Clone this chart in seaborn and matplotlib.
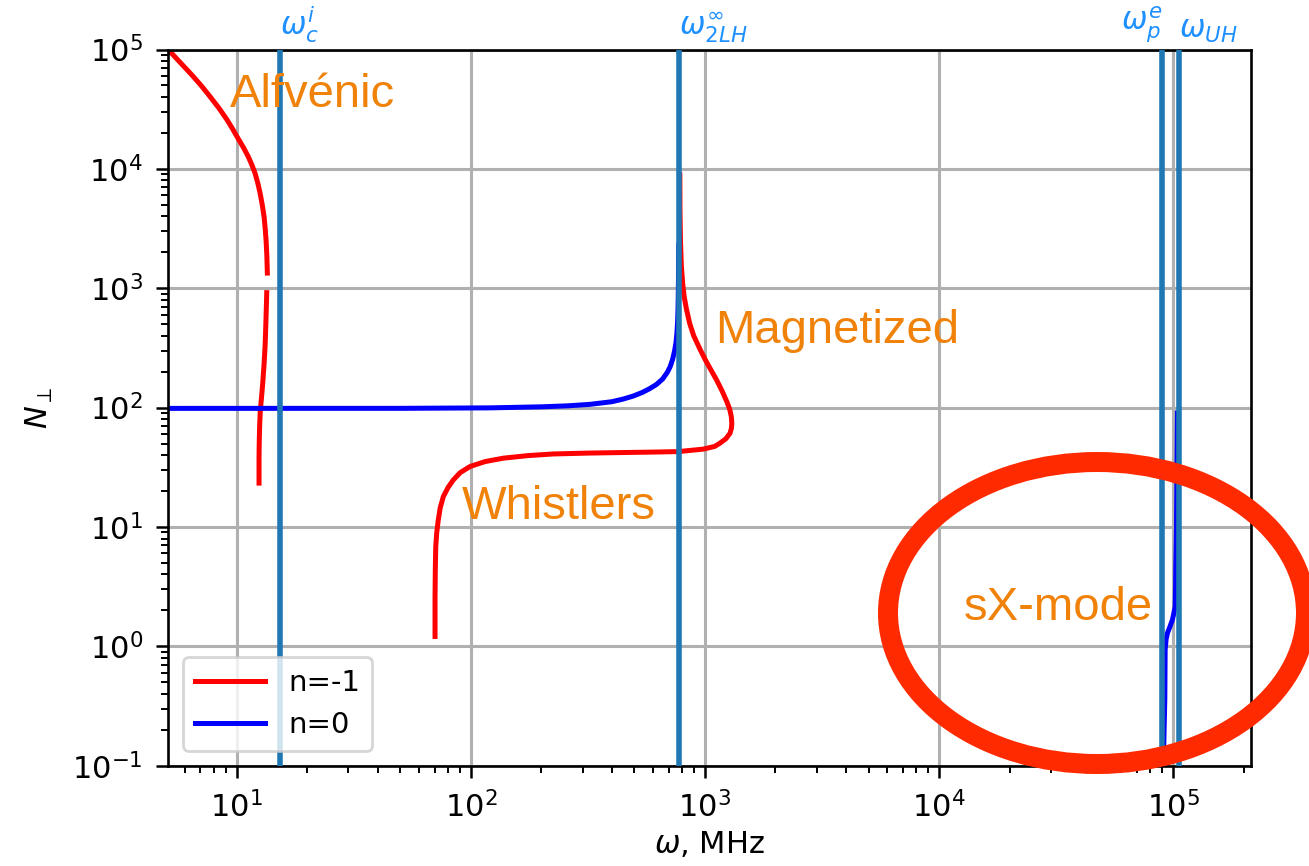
import matplotlib
matplotlib.use("Agg")
import matplotlib.pyplot as plt
from matplotlib.patches import Ellipse
from matplotlib.transforms import blended_transform_factory
import seaborn as sns

# ---- dispersion branches: omega [MHz] and N_perp ----
# n = -1, Alfvenic branch (two pieces, solver gap near N ~ 1e3)
alfven_hi_w = [5.1, 5.19, 5.8, 6.53, 7.1, 7.69, 8.4, 9.06, 9.6, 10.16, 10.7, 11.21, 11.6,
               11.97, 12.3, 12.58, 12.85, 13.08, 13.22, 13.34, 13.44, 13.51]
alfven_hi_N = [9.9e4, 9.6e4, 7.6e4, 5.92e4, 4.9e4, 4.03e4, 3.22e4, 2.6e4, 2.16e4, 1.78e4,
               1.5e4, 1.26e4, 1.08e4, 9.2e3, 7.6e3, 6.25e3, 5.0e3, 3.98e3, 3.2e3, 2.54e3,
               1.9e3, 1.34e3]
alfven_lo_w = [13.43, 13.39, 13.34, 13.28, 13.21, 13.08, 12.91, 12.75, 12.61, 12.53, 12.49,
               12.46, 12.45, 12.45]
alfven_lo_N = [918, 740, 578, 430, 324, 230, 160, 120, 95.7, 72, 57.1, 45, 36.5, 23.3]

# n = -1, whistler / magnetized branch (ordered along the curve)
whistler_w = [70.3, 70.3, 70.5, 70.8, 71.5, 72.6, 74.0, 76.3, 80.0, 84.2, 90.0, 99.2, 115,
              137.6, 175, 225, 320, 434, 600, 769, 984, 1100, 1160, 1230, 1280, 1297,
              1302, 1296, 1275, 1240, 1185, 1120, 1060, 1005, 955, 895, 860, 832, 815,
              803, 793, 786, 782, 781]
whistler_N = [1.21, 2.61, 4.5, 6.85, 9.0, 11.5, 14.5, 18.0, 21.5, 24.8, 28.5, 32.1, 35.3,
              37.7, 39.6, 40.9, 41.6, 42.0, 42.4, 42.8, 44.9, 47.3, 50.4, 55.0, 61.1, 67,
              74, 84, 97, 112, 137, 171, 207, 250, 305, 400, 509, 680, 851,
              1100, 1517, 2500, 4500, 8900]

# n = 0, lower-hybrid resonance branch
lh_w = [5.1, 50, 120, 200, 260, 323, 400, 448, 494, 540, 580, 620, 660, 690, 710, 728, 742,
        752, 759, 764, 767, 769, 770.5, 771.5, 772.5]
lh_N = [98.5, 98.6, 99.5, 101.5, 103.5, 106.5, 112, 118, 125, 134, 144, 156, 174, 197, 220,
        255, 300, 350, 420, 520, 650, 850, 1150, 1600, 2300]

# n = 0, slow X-mode between plasma and upper-hybrid frequencies
sx_w = [9.08e4, 9.14e4, 9.21e4, 9.24e4, 9.33e4, 9.45e4, 9.7e4, 9.93e4, 1.02e5, 1.024e5,
        1.026e5, 1.03e5, 1.033e5, 1.038e5, 1.043e5]
sx_N = [0.1, 0.19, 0.36, 0.94, 1.15, 1.29, 1.47, 1.67, 2.15, 3.2, 4.66, 7.0, 10.1, 30, 90]

# characteristic frequencies
char_w = [15.3, 774, 9.0e4, 1.054e5]
char_labels = [r'$\omega_c^i$', r'$\omega_{2LH}^{\infty}$', r'$\omega_p^e$', r'$\omega_{UH}$']
char_ha = ['left', 'left', 'right', 'left']

# branch names
region_names = ['Alfvénic', 'Magnetized', 'Whistlers', 'sX-mode']
region_w = [9.36, 1105, 91.5, 1.27e4]
region_N = [3.3e4, 348, 11.6, 1.67]

plt.rcParams.update({
    'font.family': ['DejaVu Sans'],
    'axes.linewidth': 0.95,
    'xtick.labelsize': 11,
    'ytick.labelsize': 11,
    'axes.labelsize': 11,
})

W, H, DPI = 1309, 866, 200
fig = plt.figure(figsize=(W / DPI, H / DPI), dpi=DPI)
ax = fig.add_axes([168.3 / W, 1 - 765.7 / H, (1251 - 168.3) / W, (765.7 - 49.5) / H])
ax.set_xscale('log')
ax.set_yscale('log')

red, blue = 'red', 'blue'
lw = 1.8
for xs, ys, c in [(alfven_hi_w, alfven_hi_N, red), (alfven_lo_w, alfven_lo_N, red),
                  (whistler_w, whistler_N, red), (lh_w, lh_N, blue), (sx_w, sx_N, blue)]:
    sns.lineplot(x=xs, y=ys, sort=False, estimator=None, color=c, lw=lw, ax=ax)

ax.set_xlim(5.1, 2.15e5)
ax.set_ylim(0.1, 1e5)
ax.grid(True, which='major', color='#b0b0b0', lw=1.1)

trans = blended_transform_factory(ax.transData, ax.transAxes)
for w, lab, ha in zip(char_w, char_labels, char_ha):
    ax.axvline(w, color='#1f77b4', lw=2.0, zorder=3)
    ax.text(w, 1.006, lab, transform=trans, ha=ha, va='bottom', color='#1e90ff', fontsize=11)

for name, w, n in zip(region_names, region_w, region_N):
    ax.text(w, n, name, color='#f0820a', fontsize=17, family=['Liberation Sans'],
            ha='left', va='baseline', zorder=4)

ax.tick_params(which='major', length=4.2, width=0.9, pad=5)
ax.tick_params(which='minor', length=2.4, width=0.7)
ax.set_xlabel(r'$\omega$, MHz', labelpad=2)
ax.set_ylabel(r'$N_\perp$', labelpad=6)

handles = [plt.Line2D([], [], color=red, lw=lw), plt.Line2D([], [], color=blue, lw=lw)]
ax.legend(handles, ['n=-1', 'n=0'], loc='lower left', fontsize=10.5, handlelength=2.4)

ring = Ellipse((1097 / W, 1 - 613 / H), 418 / W, 302 / H, transform=fig.transFigure,
               fill=False, ec='#ff2a00', lw=7.2, zorder=10)
fig.add_artist(ring)

fig.savefig('out.png', dpi=DPI)
